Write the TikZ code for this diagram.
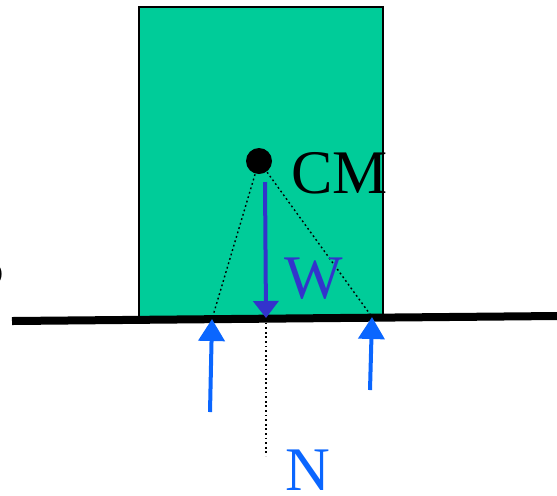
\documentclass[tikz,border=0pt]{standalone}
\usepackage{fontspec}
\setmainfont{Liberation Serif}
\usetikzlibrary{arrows.meta}
\definecolor{blockgreen}{HTML}{00CC99}
\definecolor{wblue}{HTML}{3333CC}
\definecolor{nblue}{HTML}{0A66FF}
\begin{document}
\begin{tikzpicture}[x=0.5pt,y=-0.5pt,
big/.style={font=\fontsize{31}{31}\selectfont,inner sep=0pt},
guide/.style={draw=black,line width=0.7pt,dash pattern=on 0.9pt off 1.4pt},
force/.style={-{Triangle[width=13pt,length=11pt]},line width=2pt,nblue}]
\useasboundingbox (0,0) rectangle (557,495);
% block
\node[draw=black,line width=0.8pt,fill=blockgreen,minimum width=122pt,minimum height=156pt,inner sep=0pt,anchor=north west] (block) at (138,6) {};
% ground
\coordinate (gl) at (12,321);
\coordinate (gr) at (557,316);
\draw[line width=4pt] (gl) -- (gr);
% centre of mass
\coordinate (lc) at (212,319);
\coordinate (rc) at (372,317);
\coordinate (wtop) at (265,182);
\coordinate (wtip) at (266,318);
\coordinate (nend) at (266,456);
\node[circle,fill=black,minimum size=13pt,inner sep=0pt] (cm) at (259,161) {};
\draw[guide] (cm.center) -- (lc);
\draw[guide] (cm.center) -- (rc);
\draw[guide] (wtip) -- (nend);
\draw[-{Triangle[width=12.5pt,length=8.5pt]},line width=2pt,wblue] (wtop) -- (wtip);
\node[big,anchor=base west] (cmlabel) at (291,193) {CM};
\node[big,anchor=base west,text=wblue] (wlabel) at (284,298) {W};
\node[big,anchor=base west,text=nblue] (nlabel) at (285,490) {N};
\node[big,anchor=base east] (cut) at (5,286) {5};
% normal forces
\coordinate (lb) at (210,412);
\coordinate (rb) at (370,390);
\draw[force] (lb) -- (lc);
\draw[force] (rb) -- (rc);
\end{tikzpicture}
\end{document}
